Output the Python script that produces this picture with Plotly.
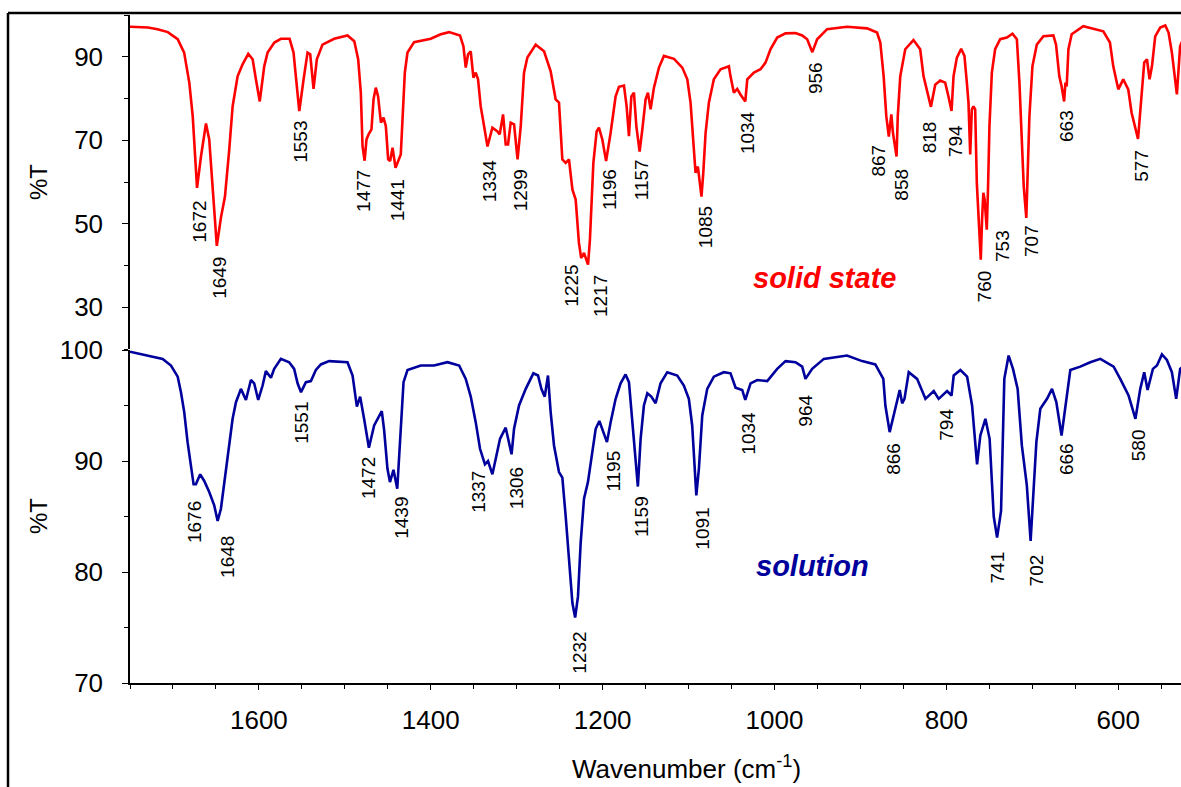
import numpy as np
import plotly.graph_objects as go

# ---------------------------------------------------------------------------
# IR spectra: wavenumber (cm-1) and transmittance (%T)
# ---------------------------------------------------------------------------
solid_wn = [
    1750, 1729, 1718, 1706, 1694.5, 1687, 1681, 1677, 1672, 1667.4, 1661.6, 1657.8,
    1653.9, 1649, 1644, 1639.5, 1634.5, 1630.6, 1624.8, 1619, 1612.4, 1607.3, 1603.5,
    1599, 1593.8, 1589.9, 1582, 1574.4, 1564.3, 1559.7, 1557, 1553, 1548, 1543.4,
    1540.3, 1536.4, 1532.6, 1526, 1512.4, 1504.7, 1496.9, 1489, 1484.5, 1481.4,
    1479.4, 1477, 1474.8, 1472.4, 1469, 1466.6, 1464, 1461.3, 1458, 1455, 1452.3,
    1449.6, 1447.3, 1444.5, 1441, 1434.9, 1432.9, 1430.2, 1427.1, 1419.4, 1400,
    1388.4, 1378.7, 1366, 1362, 1359.3, 1356.6, 1353.5, 1350.4, 1347.7, 1345,
    1341.9, 1338, 1334, 1328.3, 1322.4, 1319.8, 1315.9, 1312.8, 1310.1, 1307,
    1303.1, 1299, 1295.3, 1291.5, 1287.6, 1277.9, 1268.2, 1260.5, 1254.7, 1250.8,
    1246.9, 1243, 1239.2, 1235.2, 1231.4, 1227.6, 1225, 1221.7, 1217, 1214.8,
    1210.8, 1207, 1204.3, 1200.4, 1196, 1190.7, 1184.9, 1181, 1175.2, 1172.1,
    1169.4, 1166.6, 1163.6, 1160.8, 1157, 1153.8, 1150, 1147.3, 1144.2, 1140.3,
    1134.5, 1128.7, 1117, 1107.3, 1101.5, 1097.7, 1094.5, 1091.9, 1089.2, 1085,
    1082.9, 1080.2, 1076.4, 1070.6, 1062.8, 1053.1, 1051.2, 1047.3, 1043.4, 1039.5,
    1034, 1031.7, 1024, 1016.3, 1010.5, 1004.7, 996.9, 987.2, 975.6, 967.8, 962,
    956, 950.4, 938.8, 915.6, 892.3, 880.7, 876.9, 873, 869.9, 867, 866, 864.1,
    862.2, 858, 856.6, 853.7, 847.9, 838.3, 830.5, 826.6, 818, 813, 807.2, 801.4,
    797.6, 794, 791.7, 787.8, 782.8, 779, 776.2, 774.3, 772.3, 770.4, 768.5, 766.5,
    764.6, 762, 760, 758.5, 757, 755.5, 753, 751.5, 749.9, 747.1, 743.3, 737.4,
    729.7, 723.1, 718, 715, 712.2, 710, 707, 705.8, 703.4, 699.9, 694.8, 687.1,
    675.5, 672.4, 668.6, 666, 663, 661.5, 660, 658, 654.2, 640.7, 629.1, 617.4,
    609.7, 605.8, 600, 594.2, 588.4, 584.5, 577, 572.4, 569.8, 566.6, 563.6, 560.8,
    557, 551.2, 545.3, 541.5, 537.6, 531.8, 528, 525,
]
solid_t = [
    97.2, 97.0, 96.6, 95.9, 94.2, 91.0, 83.8, 75.7, 58.6, 66.1, 74.0, 70.2,
    58.9, 44.7, 51.7, 56.5, 67.8, 78.1, 85.3, 88.2, 90.7, 89.4, 84.6,
    79.3, 87.7, 91.0, 93.4, 94.3, 94.3, 91.0, 85.3, 77.0, 84.6, 91.0,
    90.6, 82.3, 89.4, 92.9, 94.3, 94.7, 95.1, 93.7, 89.4, 81.4,
    68.5, 65.1, 70.2, 71.4, 72.6, 79.8, 82.6, 80.5, 74.2, 75.4, 73.4,
    65.4, 65.0, 68.2, 63.4, 66.6, 75.7, 86.2, 91.0, 93.5, 94.3,
    95.4, 95.9, 95.1, 92.5, 87.4, 90.6, 91.3, 85.0, 86.2, 84.6,
    78.1, 73.4, 68.5, 73.0, 72.1, 71.4, 76.2, 69.0, 69.0, 74.2,
    73.8, 65.4, 73.4, 86.2, 89.8, 92.9, 91.3, 86.5, 79.8, 79.0,
    65.4, 64.6, 65.4, 58.2, 55.8, 45.4, 41.8, 43.0, 40.2, 46.2,
    64.6, 72.1, 73.0, 70.2, 65.0, 71.8, 80.5, 82.8, 83.1, 78.1,
    71.0, 80.5, 81.4, 73.4, 67.3, 72.6, 79.8, 81.4, 77.4, 82.6,
    87.4, 90.2, 89.5, 87.4, 84.6, 79.0, 68.5, 62.2, 63.7, 56.5,
    62.2, 71.8, 79.0, 84.6, 87.0, 87.7, 85.3, 81.4, 82.3, 80.9,
    79.3, 84.6, 86.2, 87.0, 88.6, 91.8, 94.6, 95.6, 95.7, 95.1, 94.2,
    91.1, 94.2, 96.6, 97.2, 96.8, 95.8, 93.4, 85.3, 75.7, 70.9, 72.6, 76.2,
    71.8, 66.1, 75.7, 85.3, 91.8, 94.0, 91.8, 85.3, 78.0, 83.3, 84.3, 83.8,
    80.5, 77.0, 85.3, 89.8, 91.9, 90.2, 83.8, 79.0, 66.6, 77.4, 78.1, 77.4,
    59.8, 50.0, 41.4, 51.0, 57.4, 55.8, 48.6, 58.9, 73.4, 86.2, 91.8, 94.2,
    94.6, 95.5, 94.2, 83.8, 71.8, 58.9, 51.4, 60.6, 75.7, 87.7, 92.9, 94.9,
    95.1, 92.9, 85.3, 83.0, 79.3, 83.8, 82.9, 91.8, 95.4, 97.3, 96.7, 96.1,
    93.4, 87.7, 82.2, 84.6, 82.2, 76.6, 70.3, 81.4, 88.6, 89.4, 84.6, 87.7,
    94.9, 97.0, 97.5, 95.8, 91.0, 81.0, 92.5, 94.0,
]

solution_wn = [
    1750, 1729.4, 1712, 1702.3, 1694.5, 1690.7, 1686.9, 1683, 1676, 1673.3, 1668.3,
    1663.6, 1657.8, 1652, 1648, 1644.2, 1639.5, 1634.5, 1630.6, 1626.7, 1620.9,
    1615.1, 1609.3, 1605.5, 1600.8, 1595.7, 1591.9, 1586, 1582.2, 1574.4, 1564.8,
    1559, 1555, 1551, 1545.3, 1539.5, 1533.7, 1527.9, 1518.3, 1496.9, 1491, 1486,
    1482.2, 1477.6, 1472, 1465.9, 1462, 1457, 1454.3, 1450.4, 1447.5, 1443.4, 1439,
    1436, 1431.7, 1427.1, 1411.6, 1396.2, 1380.6, 1367, 1359.3, 1353.5, 1347.7,
    1342.7, 1337, 1333.4, 1328.3, 1324.4, 1319.4, 1312.8, 1306, 1303.1, 1297.3,
    1289.5, 1280.6, 1275.2, 1271.3, 1267.4, 1263.6, 1260.5, 1256.6, 1250.8, 1246.9,
    1243, 1239.2, 1235.2, 1232, 1228.7, 1225.6, 1221.7, 1217.1, 1212, 1208.1,
    1203.8, 1200.4, 1195, 1190.7, 1184.9, 1179.1, 1173.3, 1169.4, 1165.5, 1161.6,
    1159, 1155.8, 1152, 1148, 1143.4, 1138.4, 1132.6, 1124.8, 1113.2, 1105.5,
    1099.7, 1095.8, 1093.1, 1091, 1088, 1084.1, 1078.3, 1070.6, 1059, 1051.2,
    1045.3, 1037.6, 1034, 1027.9, 1020.1, 1008.5, 996.9, 987.2, 975.6, 967.8, 964,
    956.2, 942.6, 925.2, 915.6, 898.1, 882.7, 873.4, 871, 866, 861.3, 854.3, 851.5,
    848.8, 843.8, 834.1, 824.4, 814.7, 809, 799.2, 794, 791.5, 783.7, 775.9, 770.1,
    764.3, 760.5, 754.6, 749.7, 744.9, 741, 736.4, 732.6, 727.6, 722.5, 717.1,
    712.2, 706.4, 702, 699.2, 695.3, 690.7, 682.9, 677.1, 672.1, 666, 661.6, 655.8,
    644.2, 632.6, 620.9, 605.4, 597.7, 588, 580, 574.4, 569.8, 565.9, 559.7, 555,
    549.2, 543.4, 537.6, 532.6, 528, 525,
]
solution_t = [
    99.85, 99.5, 99.2, 98.6, 97.6, 96.2, 94.4, 91.7, 87.9, 87.9, 88.8,
    88.2, 87.2, 86.0, 84.6, 85.7, 88.4, 91.7, 93.8, 95.3, 96.5,
    95.5, 97.3, 97.0, 95.5, 96.8, 98.1, 97.5, 98.3, 99.2, 98.9,
    98.3, 97.0, 96.2, 97.1, 97.2, 98.2, 98.7, 99.0, 98.9, 97.7, 94.9,
    95.8, 93.8, 91.2, 93.2, 93.8, 94.5, 92.8, 89.3, 88.1, 89.2, 87.5,
    91.4, 97.1, 98.2, 98.6, 98.6, 98.9, 98.6, 97.4, 95.8, 93.5,
    91.1, 89.7, 90.0, 88.8, 90.2, 92.0, 93.0, 90.6, 92.9, 95.0,
    96.5, 97.9, 97.7, 96.5, 95.8, 97.7, 94.4, 91.4, 89.0, 88.5,
    85.0, 80.8, 77.2, 75.9, 77.8, 82.6, 86.6, 88.1, 91.1, 92.9,
    93.6, 92.9, 91.7, 93.5, 95.6, 97.0, 97.8, 97.1, 93.5, 89.9,
    87.7, 92.0, 95.0, 96.1, 95.8, 95.2, 97.0, 98.0, 97.7, 96.8,
    95.6, 93.2, 89.3, 86.9, 89.3, 94.1, 96.5, 97.6, 98.0, 97.9,
    96.6, 96.4, 95.5, 97.0, 97.3, 97.2, 98.3, 99.0, 98.9, 98.5, 97.4,
    98.3, 99.2, 99.4, 99.5, 99.0, 98.7, 97.4, 95.0, 92.6, 94.1, 96.4, 95.2,
    95.6, 98.0, 97.4, 95.6, 96.3, 95.6, 96.3, 95.9, 97.7, 98.2, 97.6, 95.0,
    89.7, 92.3, 93.8, 92.0, 85.0, 83.1, 85.5, 97.4, 99.5, 98.3, 96.5,
    91.4, 87.8, 82.8, 86.9, 91.7, 94.7, 95.6, 96.5, 95.3, 92.3, 95.0, 98.2,
    98.5, 98.9, 99.2, 98.5, 97.4, 95.9, 93.8, 96.5, 98.0, 96.4, 98.3, 98.6,
    99.6, 99.1, 98.0, 95.6, 98.3, 98.5,
]

# Assigned band positions (cm-1)
solid_peaks = [1672, 1649, 1553, 1477, 1441, 1334, 1299, 1225, 1217, 1196, 1157,
               1085, 1034, 956, 867, 858, 818, 794, 760, 753, 707, 663, 577]
solution_peaks = [1676, 1648, 1551, 1472, 1439, 1337, 1306, 1232, 1195, 1159,
                  1091, 1034, 964, 866, 794, 741, 702, 666, 580]

# Where each rotated band label sits: (centre in cm-1, %T at the label's upper end)
solid_label_pos = [
    (1669.0, 55.9), (1646.2, 42.6), (1551.2, 75.1), (1477.6, 63.4), (1438.7, 61.0),
    (1332.2, 65.8), (1296.2, 63.5), (1237.2, 40.6), (1203.1, 38.2), (1192.7, 63.7),
    (1153.8, 65.9), (1080.2, 54.6), (1030.6, 77.4), (952.3, 89.1), (878.7, 69.4),
    (852.7, 63.7), (818.6, 75.1), (789.5, 74.2), (755.8, 39.4), (734.1, 49.0),
    (700.3, 50.2), (660.5, 77.8), (572.4, 68.2),
]
solution_label_pos = [
    (1675.2, 86.6), (1636.4, 83.4), (1550.0, 95.5), (1472.4, 90.5), (1434.1, 87.0),
    (1343.8, 89.3), (1300.0, 89.6), (1226.4, 74.8), (1187.6, 91.1), (1155.0, 87.0),
    (1084.1, 86.0), (1030.6, 94.6), (964.0, 96.2), (862.4, 91.8), (800.3, 94.9),
    (740.3, 82.0), (695.3, 81.8), (660.8, 91.8), (576.4, 93.0),
]

# ---------------------------------------------------------------------------
# Figure geometry
# ---------------------------------------------------------------------------
W, H = 1181, 787
ML, MR, MT, MB = 130, 0, 15, 104
PW, PH = W - ML - MR, H - MT - MB
FONT = "Liberation Sans, Arial, sans-serif"
RED = "#FF0000"
NAVY = "#00009C"


def px_x(px):
    return (px - ML) / PW


def px_y(py):
    return (H - MB - py) / PH


fig = go.Figure()
fig.add_trace(go.Scatter(x=solid_wn, y=solid_t, mode="lines",
                         line=dict(color=RED, width=2.6),
                         xaxis="x", yaxis="y", showlegend=False))
fig.add_trace(go.Scatter(x=solution_wn, y=solution_t, mode="lines",
                         line=dict(color=NAVY, width=2.6),
                         xaxis="x", yaxis="y2", showlegend=False))

annotations = []
for peak, (lx, ly) in zip(solid_peaks, solid_label_pos):
    annotations.append(dict(x=lx, y=ly, xref="x", yref="y", text=str(peak),
                            textangle=-90, xanchor="center", yanchor="top",
                            showarrow=False, font=dict(family=FONT, size=19, color="black")))
for peak, (lx, ly) in zip(solution_peaks, solution_label_pos):
    annotations.append(dict(x=lx, y=ly, xref="x", yref="y2", text=str(peak),
                            textangle=-90, xanchor="center", yanchor="top",
                            showarrow=False, font=dict(family=FONT, size=19, color="black")))

annotations += [
    dict(x=942.4, y=37.0, xref="x", yref="y", text="<b><i>solid state</i></b>",
         showarrow=False, xanchor="center", yanchor="middle",
         font=dict(family=FONT, size=29, color=RED)),
    dict(x=956.2, y=80.5, xref="x", yref="y2", text="<b><i>solution</i></b>",
         showarrow=False, xanchor="center", yanchor="middle",
         font=dict(family=FONT, size=29, color=NAVY)),
    dict(x=px_x(38), y=px_y(182), xref="paper", yref="paper", text="%T",
         textangle=-90, showarrow=False, xanchor="center", yanchor="middle",
         font=dict(family=FONT, size=24, color="black")),
    dict(x=px_x(38), y=px_y(516), xref="paper", yref="paper", text="%T",
         textangle=-90, showarrow=False, xanchor="center", yanchor="middle",
         font=dict(family=FONT, size=24, color="black")),
    dict(x=px_x(686), y=px_y(767), xref="paper", yref="paper",
         text="Wavenumber (cm<sup>-1</sup>)", showarrow=False,
         xanchor="center", yanchor="middle",
         font=dict(family=FONT, size=26, color="black")),
]

# Outer frame (top and left edges)
frame = dict(type="line", xref="paper", yref="paper",
             line=dict(color="black", width=2.5))
shapes = [
    dict(frame, x0=px_x(8), y0=px_y(13), x1=px_x(W + 5), y1=px_y(13)),
    dict(frame, x0=px_x(8), y0=px_y(13), x1=px_x(8), y1=px_y(H + 5)),
]

yaxis_common = dict(showline=True, linecolor="black", linewidth=1.5,
                    ticks="outside", ticklen=6, tickcolor="black", tickwidth=1.2,
                    showgrid=False, zeroline=False, ticklabelstandoff=14,
                    tickfont=dict(family=FONT, size=26, color="black"))

fig.update_layout(
    width=W, height=H,
    margin=dict(l=ML, r=MR, t=MT, b=MB),
    paper_bgcolor="white", plot_bgcolor="white",
    xaxis=dict(domain=[0, 1], anchor="y2", range=[1750, 527],
               showline=True, linecolor="black", linewidth=1.5,
               ticks="outside", ticklen=5, tickcolor="black", tickwidth=1.2,
               tickmode="linear", tick0=0, dtick=200,
               minor=dict(ticks="outside", ticklen=4, dtick=50, tick0=0,
                          tickcolor="black"),
               showgrid=False, zeroline=False, ticklabelstandoff=8,
               tickfont=dict(family=FONT, size=26, color="black")),
    yaxis=dict(yaxis_common, domain=[px_y(349), 1], anchor="x", range=[20, 100],
               tickmode="linear", tick0=30, dtick=20,
               minor=dict(ticks="outside", ticklen=4, dtick=10, tick0=0,
                          tickcolor="black")),
    yaxis2=dict(yaxis_common, domain=[0, px_y(350)], anchor="x", range=[70, 100],
                tickmode="linear", tick0=70, dtick=10,
                minor=dict(ticks="outside", ticklen=4, dtick=5, tick0=0,
                           tickcolor="black")),
    annotations=annotations,
    shapes=shapes,
)

fig.write_html("out.html")
